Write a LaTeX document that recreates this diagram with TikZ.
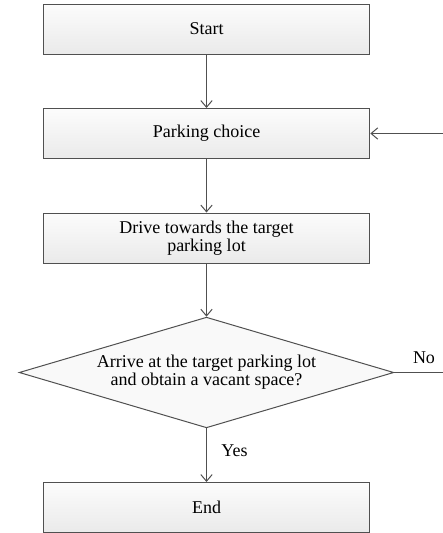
\documentclass[tikz,border=0pt]{standalone}
\usepackage{fontspec}
\setmainfont{Liberation Serif}
\usetikzlibrary{arrows.meta,shapes.geometric}

\definecolor{flowline}{RGB}{80,80,80}
\definecolor{boxtop}{RGB}{252,252,252}
\definecolor{boxbot}{RGB}{234,234,234}

\tikzset{every picture/.style={line width=0.75pt}}
\tikzset{
  procbox/.style={draw=flowline, top color=boxtop, bottom color=boxbot,
    minimum width=245pt, minimum height=37.5pt, inner sep=0.75pt, align=center,
    font=\fontsize{13.5}{13.5}\selectfont},
  decbox/.style={diamond, draw=flowline, fill={rgb,255:red,249;green,249;blue,249},
    shape aspect=3.4, minimum width=281pt, minimum height=83pt, inner sep=0pt,
    align=center, font=\fontsize{13.5}{13.5}\selectfont},
  flowlbl/.style={inner sep=0.75pt, font=\fontsize{13.5}{13.5}\selectfont},
  flowarr/.style={draw=flowline, -{Straight Barb[length=5pt,width=8.5pt]}}
}

\begin{document}
\begin{tikzpicture}[x=0.75pt,y=0.75pt,yscale=-1,xscale=1]
%set diagram size: 443 x 533
\clip (0,0) rectangle (443,533);

%Boxes
\node [procbox] (start) at (206.5,29) {Start};
\node [procbox] (choice) at (206.5,133.5) {Parking choice};
\node [procbox] (drive) at (206.5,238) {Drive towards the target\\parking lot};
\node [decbox] (arrive) at (206.5,372.5) {Arrive at the target parking lot\\and obtain a vacant space?};
\node [procbox] (finish) at (206.5,507.5) {End};

%Loop back corner (outside right edge)
\coordinate (loopcorner) at (447,372.5);

%Connectors
\draw [flowarr] (start) -- (choice);
\draw [flowarr] (choice) -- (drive);
\draw [flowarr] (drive) -- (arrive);
\draw [flowarr] (arrive) -- (finish);
\draw [flowarr] (arrive.east) -- (loopcorner) |- (choice.east);

% Text Node
\node [flowlbl] (yeslbl) at (234.5,451) {Yes};
% Text Node
\node [flowlbl] (nolbl) at (424,358) {No};

\end{tikzpicture}
\end{document}
